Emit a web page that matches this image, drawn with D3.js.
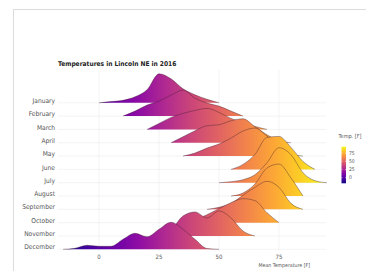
<!DOCTYPE html>
<html>
<head>
<meta charset="utf-8">
<script src="https://cdn.jsdelivr.net/npm/d3@7"></script>
<style>
body { margin: 0; background: #fff; }
text { font-family: 'Liberation Sans Narrow', 'Arial Narrow', 'DejaVu Sans Condensed', sans-serif; }
</style>
</head>
<body>
<svg id="chart" width="366" height="271"></svg>
<script>
var months = ['January','February','March','April','May','June','July','August','September','October','November','December'];
// temperature grid (F) the ridge heights are read at
var temps = [-15,-10,-5,0,5,10,15,20,25,30,35,40,45,50,55,60,65,70,75,80,85,90,95];
// relative density heights per month
var jan = [0,0,0,0,1.2,2.5,6,13,29,24,14,8,3.5,0,0,0,0,0,0,0,0,0,0];
var feb = [0,0,0,0,0,0,5,11,15,21,26,18,13,10,5,0,0,0,0,0,0,0,0];
var mar = [0,0,0,0,0,0,0,0,6,12,16,19,21,17,11,7,3,0,0,0,0,0,0];
var apr = [0,0,0,0,0,0,0,0,0,0,6,12,17,18,22,24,16,8,2,0,0,0,0];
var may = [0,0,0,0,0,0,0,0,0,0,0,3,8,12,18,25,28,20,10,2,0,0,0];
var jun = [0,0,0,0,0,0,0,0,0,0,0,0,0,0,0,5,15,32,33,22,8,0,0];
var jul = [0,0,0,0,0,0,0,0,0,0,0,0,0,0,1,3,8,20,35,28,10,2,0];
var aug = [0,0,0,0,0,0,0,0,0,0,0,0,0,0,0,3,12,28,32,18,0,0,0];
var sep = [0,0,0,0,0,0,0,0,0,0,0,0,0,2,6,14,22,28,22,6,0,0,0];
var oct = [0,0,0,0,0,0,0,0,0,0,0,3,8,14,20,24,22,10,0,0,0,0,0];
var nov = [0,0,0,0,0,0,0,0,0,6,20,24,18,25,18,5,0,0,0,0,0,0,0];
var dec = [0,1,4,3,3,10,16,12.5,20,27,20,10,0.8,0,0,0,0,0,0,0,0,0,0];
var densities = [jan,feb,mar,apr,may,jun,jul,aug,sep,oct,nov,dec];
var xTicks = [0,25,50,75];
var legendTicks = [0,25,50,75];
var fillRange = [-17,95];

var svg = d3.select('#chart');

// card
svg.append('rect').attr('x',13.5).attr('y',9.5).attr('width',400).attr('height',300)
	.attr('fill','#fff').attr('stroke','#dcdcdc').attr('stroke-width',1);

var x = d3.scaleLinear().domain([-17.1,94.6]).range([58,326]);
var y = d3.scalePoint().domain(months).range([102.8,249.3]);
var h = d3.scaleLinear().domain([0,40]).range([0,40]);

// gradient
var defs = svg.append('defs');
var grad = defs.append('linearGradient').attr('id','plasma')
	.attr('gradientUnits','userSpaceOnUse')
	.attr('x1',x(fillRange[0])).attr('x2',x(fillRange[1])).attr('y1',0).attr('y2',0);
d3.range(0,1.001,0.1).forEach(function(s){
	grad.append('stop').attr('offset',s).attr('stop-color',d3.interpolatePlasma(s));
});

// grid
var grid = svg.append('g').attr('stroke','#ebebeb').attr('stroke-width',0.6);
months.forEach(function(m){
	grid.append('line').attr('x1',58).attr('x2',326).attr('y1',y(m)).attr('y2',y(m));
});
xTicks.forEach(function(t){
	grid.append('line').attr('x1',x(t)).attr('x2',x(t)).attr('y1',70).attr('y2',251);
});

// ridges
var ridges = svg.append('g');
months.forEach(function(m,i){
	var d = densities[i];
	var first = d.findIndex(v => v > 0), last = d.length - 1 - d.slice().reverse().findIndex(v => v > 0);
	var pts = [];
	for (var k = Math.max(0,first-1); k <= Math.min(d.length-1,last+1); k++) pts.push({t:temps[k], v:d[k]});
	var base = y(m);
	var area = d3.area().curve(d3.curveMonotoneX)
		.x(p => x(p.t)).y0(base).y1(p => base - h(p.v));
	var line = d3.line().curve(d3.curveMonotoneX)
		.x(p => x(p.t)).y(p => base - h(p.v));
	ridges.append('path').attr('d',area(pts)).attr('fill','url(#plasma)');
	ridges.append('path').attr('d',line(pts)).attr('fill','none')
		.attr('stroke','#3a1a2a').attr('stroke-opacity',0.7).attr('stroke-width',0.55);
});

// month labels
svg.append('g').selectAll('text').data(months).enter().append('text')
	.attr('x',55).attr('y',m => y(m) - 2.2).attr('dy','0.35em')
	.attr('text-anchor','end').attr('font-size',6.6).attr('fill','#555').text(m => m);

// x tick labels
svg.append('g').selectAll('text').data(xTicks).enter().append('text')
	.attr('x',t => x(t)).attr('y',257).attr('dy','0.35em')
	.attr('text-anchor','middle').attr('font-size',6).attr('fill','#555').text(t => t);

svg.append('text').attr('x',310).attr('y',265).attr('dy','0.35em')
	.attr('text-anchor','end').attr('font-size',5.2).attr('fill','#555').text('Mean Temperature [F]');

svg.append('text').attr('x',58).attr('y',63.5).attr('dy','0.35em')
	.attr('font-size',6.6).attr('font-weight','bold').attr('fill','#222')
	.text('Temperatures in Lincoln NE in 2016');

// legend
var lg = svg.append('g');
lg.append('text').attr('x',338.5).attr('y',136).attr('dy','0.35em')
	.attr('font-size',5.5).attr('fill','#555').text('Temp. [F]');
var ly = d3.scaleLinear().domain(fillRange).range([183.3,146.7]);
var lgrad = defs.append('linearGradient').attr('id','plasmaV')
	.attr('x1',0).attr('x2',0).attr('y1',1).attr('y2',0);
d3.range(0,1.001,0.1).forEach(function(s){
	lgrad.append('stop').attr('offset',s).attr('stop-color',d3.interpolatePlasma(s));
});
lg.append('rect').attr('x',341.5).attr('y',ly(fillRange[1])).attr('width',4.5)
	.attr('height',ly(fillRange[0]) - ly(fillRange[1])).attr('fill','url(#plasmaV)');
legendTicks.forEach(function(t){
	lg.append('line').attr('x1',341.5).attr('x2',342.5).attr('y1',ly(t)).attr('y2',ly(t)).attr('stroke','#fff').attr('stroke-width',0.5);
	lg.append('line').attr('x1',345).attr('x2',346).attr('y1',ly(t)).attr('y2',ly(t)).attr('stroke','#fff').attr('stroke-width',0.5);
	lg.append('text').attr('x',349).attr('y',ly(t)).attr('dy','0.35em')
		.attr('font-size',5).attr('fill','#555').text(t);
});
</script>
</body>
</html>
